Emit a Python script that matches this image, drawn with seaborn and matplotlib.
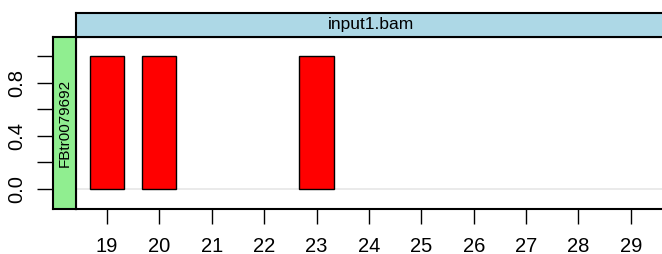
import pandas as pd
import matplotlib.pyplot as plt
import seaborn as sns

sns.set_style("white")
plt.rcParams['font.family'] = ['Liberation Sans', 'DejaVu Sans']
plt.rcParams['text.color'] = 'black'
plt.rcParams['xtick.color'] = 'black'
plt.rcParams['ytick.color'] = 'black'

# read lengths and their counts
read_length = [19, 20, 23]
frequency = [1.0, 1.0, 1.0]
x_ticks = list(range(19, 30))
y_ticks = [0.0, 0.2, 0.4, 0.6, 0.8, 1.0]
y_labels = ["0.0", "", "0.4", "", "0.8", ""]
sample = "input1.bam"
transcript = "FBtr0079692"

df = pd.DataFrame({"length": read_length, "freq": frequency})

W, H = 662, 254
fig = plt.figure(figsize=(W / 100, H / 100), dpi=100)

# main panel
ax = fig.add_axes([76 / W, (H - 209) / H, (666 - 76) / W, 172 / H])
ax.axhline(0, color="#e6e6e6", lw=1.2, zorder=0)
sns.barplot(data=df, x="length", y="freq", native_scale=True, width=0.65,
            color="red", saturation=1, edgecolor="black", linewidth=1, ax=ax)
ax.set_xlim(18.41, 29.67)
ax.set_ylim(-0.15, 1.143)
ax.set_xticks(x_ticks)
ax.set_xticklabels([str(t) for t in x_ticks], fontsize=14.5, color="black")
ax.tick_params(axis="x", direction="out", length=11, width=1, pad=9, bottom=True)
ax.set_yticks([])
ax.set_xlabel("")
ax.set_ylabel("")
for s in ax.spines.values():
    s.set_linewidth(1.5)
    s.set_color("black")

# top strip
top = fig.add_axes([76 / W, (H - 37) / H, (666 - 76) / W, 24 / H])
top.set_facecolor("#add8e6")
top.set_xticks([])
top.set_yticks([])
top.text(0.5, 0.5, sample, ha="center", va="center", fontsize=12.5,
         color="black", transform=top.transAxes)
for s in top.spines.values():
    s.set_linewidth(1.5)
    s.set_color("black")

# left strip with y axis
left = fig.add_axes([53 / W, (H - 209) / H, 23 / W, 172 / H])
left.set_facecolor("#90ee90")
left.set_ylim(ax.get_ylim())
left.set_xticks([])
left.set_yticks(y_ticks)
left.set_yticklabels(y_labels, rotation=90, va="center", fontsize=14.5, color="black")
left.tick_params(axis="y", direction="out", length=11.5, width=1, pad=8, left=True)
left.text(0.5, 0.5, transcript, rotation=90, ha="center", va="center",
          fontsize=11, color="black", transform=left.transAxes)
for s in left.spines.values():
    s.set_linewidth(1.5)
    s.set_color("black")

plt.savefig("out.png", dpi=100)
plt.close()
